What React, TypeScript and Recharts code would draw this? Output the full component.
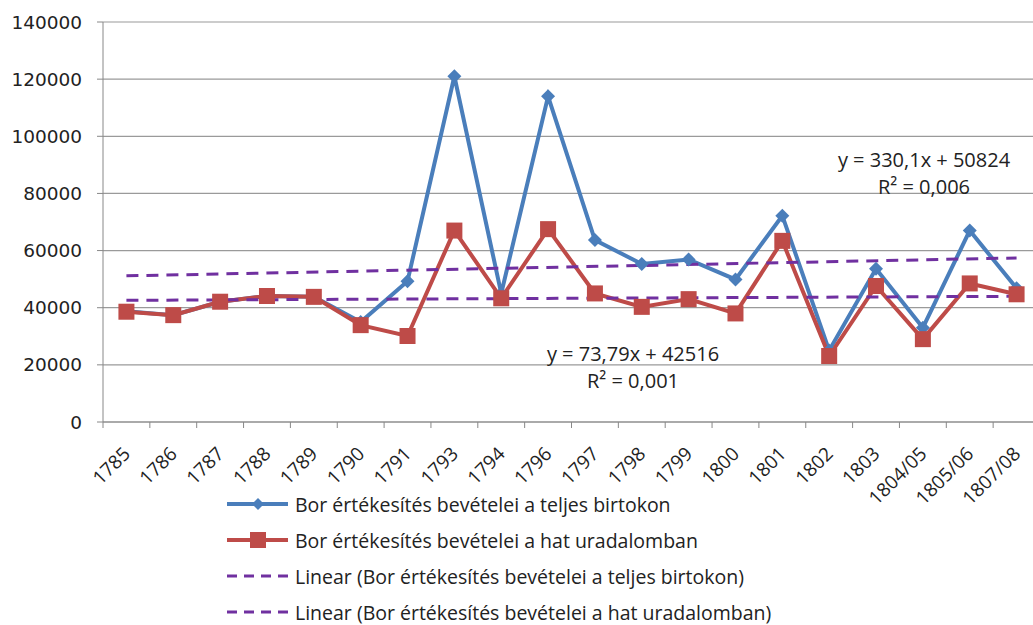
// modules
import { LineChart, Line, XAxis, YAxis, CartesianGrid, ReferenceLine } from "recharts";


const categories = [
  "1785", "1786", "1787", "1788", "1789", "1790", "1791", "1793", "1794", "1796",
  "1797", "1798", "1799", "1800", "1801", "1802", "1803", "1804/05", "1805/06", "1807/08",
];

// Bor értékesítés bevételei a teljes birtokon
const totalEstate = [
  38800, 37400, 42100, 44100, 43800, 35000, 49300, 121000, 45000, 114000,
  63700, 55300, 56900, 49900, 72200, 25000, 53600, 33000, 67000, 46800,
];

// Bor értékesítés bevételei a hat uradalomban
const sixDomains = [
  38600, 37400, 42100, 44100, 43800, 33900, 30100, 67000, 43300, 67500,
  45000, 40300, 43000, 38000, 63400, 23100, 47600, 29000, 48500, 44700,
];

// end points of the two Excel linear trendlines
const trendTotal = [51154, 57426];
const trendSix = [42590, 43992];

const yTicks = [0, 20000, 40000, 60000, 80000, 100000, 120000, 140000];

const legendLabels = [
  "Bor értékesítés bevételei a teljes birtokon",
  "Bor értékesítés bevételei a hat uradalomban",
  "Linear (Bor értékesítés bevételei a teljes birtokon)",
  "Linear (Bor értékesítés bevételei a hat uradalomban)",
];

const equations = [
  { text: ["y = 330,1x + 50824", "R² = 0,006"], left: 824, top: 146 },
  { text: ["y = 73,79x + 42516", "R² = 0,001"], left: 533, top: 340 },
];


const BLUE = "#4A7EBB";
const RED = "#BE4B48";
const PURPLE = "#7030A0";
const FONT = "'Open Sans', 'DejaVu Sans', sans-serif";
const NUM_FONT = "'DejaVu Sans', sans-serif";

// the plot runs a few pixels past the right edge of the picture, as in the original
const W = 1040;
const VIEW_W = 1033;
const H = 625;
const Y_AXIS_W = 103;
const BAND = (W - Y_AXIS_W) / categories.length;


const data = categories.map((year, i) => ({
  year,
  total: totalEstate[i],
  six: sixDomains[i],
}));


const Diamond = (props: any) => {
  const { cx, cy, index } = props;
  if (cx == null || cy == null) return <g key={index} />;
  const r = 7;
  return (
    <path
      key={index}
      d={`M${cx},${cy - r}L${cx + r},${cy}L${cx},${cy + r}L${cx - r},${cy}Z`}
      fill={BLUE}
    />
  );
};

const Square = (props: any) => {
  const { cx, cy, index } = props;
  if (cx == null || cy == null) return <g key={index} />;
  const s = 8;
  return <rect key={index} x={cx - s} y={cy - s} width={s * 2} height={s * 2} fill={RED} />;
};

const XTick = (props: any) => {
  const { x, y, payload } = props;
  const left = x - BAND / 2;
  const tx = x + 5;
  const ty = y + 33;
  return (
    <g>
      <line x1={left} x2={left} y1={y} y2={y + 6} stroke="#888" />
      <text
        x={tx}
        y={ty}
        transform={`rotate(-45, ${tx}, ${ty})`}
        textAnchor="end"
        fontSize={19}
        fontFamily={FONT}
        fill="#222"
      >
        {payload.value}
      </text>
    </g>
  );
};


function LegendIcon({ i }: { i: number }) {
  const color = i === 0 ? BLUE : i === 1 ? RED : PURPLE;
  return (
    <svg width={62} height={18} style={{ display: "block" }}>
      <line
        x1={0} x2={61} y1={9} y2={9}
        stroke={color}
        strokeWidth={i < 2 ? 4 : 3}
        strokeDasharray={i < 2 ? undefined : "10 7"}
      />
      {i === 0 && <path d="M31,3L37,9L31,15L25,9Z" fill={BLUE} />}
      {i === 1 && <rect x={23} y={1} width={16} height={16} fill={RED} />}
    </svg>
  );
}


export default function App() {
  return (
    <div style={{ position: "absolute", left: 0, top: 0, width: VIEW_W, height: H, background: "#fff", overflow: "hidden" }}>
      <LineChart width={W} height={H} data={data} margin={{ top: 22, right: 0, bottom: 0, left: 0 }}>
        <CartesianGrid vertical={false} stroke="#9a9a9a" strokeWidth={1.2} />
        <XAxis
          dataKey="year"
          interval={0}
          height={203}
          padding={{ left: BAND / 2, right: BAND / 2 }}
          tickSize={0}
          tickMargin={0}
          axisLine={{ stroke: "#888" }}
          tickLine={false}
          tick={<XTick />}
        />
        <YAxis
          width={Y_AXIS_W}
          domain={[0, 140000]}
          ticks={yTicks}
          interval={0}
          tickSize={6}
          tickMargin={15}
          axisLine={{ stroke: "#888" }}
          tickLine={{ stroke: "#888" }}
          tick={{ fontSize: 18.5, fontFamily: NUM_FONT, fill: "#222" }}
        />
        <Line
          dataKey="total"
          stroke={BLUE}
          strokeWidth={4}
          dot={<Diamond />}
          activeDot={false}
          isAnimationActive={false}
        />
        <Line
          dataKey="six"
          stroke={RED}
          strokeWidth={4}
          dot={<Square />}
          activeDot={false}
          isAnimationActive={false}
        />
        <ReferenceLine
          segment={[
            { x: categories[0], y: trendTotal[0] },
            { x: categories[categories.length - 1], y: trendTotal[1] },
          ]}
          stroke={PURPLE}
          strokeWidth={3}
          strokeDasharray="12 8"
        />
        <ReferenceLine
          segment={[
            { x: categories[0], y: trendSix[0] },
            { x: categories[categories.length - 1], y: trendSix[1] },
          ]}
          stroke={PURPLE}
          strokeWidth={3}
          strokeDasharray="12 8"
        />
      </LineChart>

      {equations.map((eq, i) => (
        <div
          key={i}
          style={{
            position: "absolute",
            left: eq.left,
            top: eq.top,
            width: 200,
            textAlign: "center",
            fontFamily: FONT,
            fontSize: 20,
            lineHeight: "27px",
            color: "#222",
          }}
        >
          {eq.text.map(t => <div key={t}>{t}</div>)}
        </div>
      ))}

      <div style={{ position: "absolute", left: 227, top: 486, fontFamily: FONT, fontSize: 19.5, color: "#222" }}>
        {legendLabels.map((label, i) => (
          <div key={label} style={{ display: "flex", alignItems: "center", height: 36, gap: 6 }}>
            <LegendIcon i={i} />
            <span>{label}</span>
          </div>
        ))}
      </div>
    </div>
  );
}
